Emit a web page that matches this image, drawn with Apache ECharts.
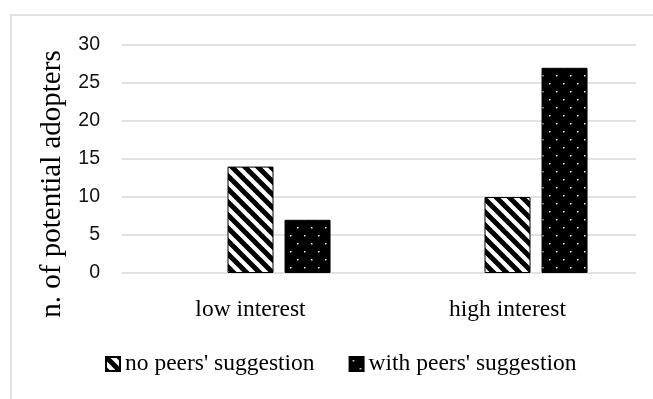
<!DOCTYPE html>
<html>
<head>
<meta charset="utf-8">
<style>
  html, body { margin: 0; padding: 0; background: #ffffff; }
  #chart { width: 653px; height: 399px; }
</style>
<script src="https://cdn.jsdelivr.net/npm/echarts@6/dist/echarts.min.js"></script>
</head>
<body>
<div id="chart"></div>
<script>
// Categories and series values
var categories = ['low interest', 'high interest'];
var noPeers = [14, 10];
var withPeers = [7, 27];
var yTicks = { min: 0, max: 30, step: 5 };
var seriesNames = ["no peers' suggestion", "with peers' suggestion"];
var axisTitle = 'n. of potential adopters';

// Diagonal black/white stripes ("\" direction)
function hatchPattern() {
  var s = 13;
  var c = document.createElement('canvas');
  c.width = s; c.height = s;
  var g = c.getContext('2d');
  g.fillStyle = '#ffffff';
  g.fillRect(0, 0, s, s);
  g.strokeStyle = '#000000';
  g.lineWidth = 5;
  for (var k = -2; k <= 2; k++) {
    g.beginPath();
    g.moveTo(-s, -s - k * s);
    g.lineTo(2 * s, 2 * s - k * s);
    g.stroke();
  }
  return { image: c, repeat: 'repeat' };
}

// Black fill with a staggered grid of small light dots
function dotPattern() {
  var w = 14, h = 16;
  var c = document.createElement('canvas');
  c.width = w; c.height = h;
  var g = c.getContext('2d');
  g.fillStyle = '#000000';
  g.fillRect(0, 0, w, h);
  g.fillStyle = '#eeeeee';
  g.fillRect(3, 3, 1.5, 1.5);
  g.fillRect(10, 11, 1.5, 1.5);
  return { image: c, repeat: 'repeat' };
}

var serif = '"Liberation Serif", "Times New Roman", serif';
var chart = echarts.init(document.getElementById('chart'), null, { renderer: 'canvas' });

chart.setOption({
  animation: false,
  backgroundColor: '#ffffff',
  grid: { left: 122, right: 17, top: 45, bottom: 126 },
  legend: {
    data: seriesNames,
    left: 100,
    top: 347,
    itemWidth: 14,
    itemHeight: 14,
    itemGap: 34,
    icon: 'rect',
    textStyle: { fontFamily: serif, fontSize: 23.5, color: '#000000' }
  },
  xAxis: {
    type: 'category',
    data: categories,
    axisLine: { show: false },
    axisTick: { show: false },
    axisLabel: { fontFamily: serif, fontSize: 23.5, color: '#000000', margin: 25 }
  },
  yAxis: {
    type: 'value',
    min: yTicks.min,
    max: yTicks.max,
    interval: yTicks.step,
    axisLine: { show: false },
    axisTick: { show: false },
    axisLabel: { fontFamily: '"Liberation Sans", Arial, sans-serif', fontSize: 19.5, color: '#111111', margin: 22 },
    splitLine: { lineStyle: { color: '#d9d9d9', width: 1.5 } }
  },
  graphic: [
    {
      type: 'rect',
      shape: { x: 11, y: 15, width: 800, height: 600 },
      style: { fill: null, stroke: '#d9d9d9', lineWidth: 1.5 },
      silent: true
    },
    {
      type: 'text',
      x: 52,
      y: 184,
      rotation: Math.PI / 2,
      style: {
        text: axisTitle,
        fontFamily: serif,
        fontSize: 29,
        fill: '#000000',
        textAlign: 'center',
        textVerticalAlign: 'middle'
      }
    }
  ],
  series: [
    {
      // empty leading slot in each cluster
      name: '',
      type: 'bar',
      data: [null, null],
      barWidth: 46,
      barGap: '24%'
    },
    {
      name: seriesNames[0],
      type: 'bar',
      data: noPeers,
      barWidth: 46,
      barGap: '24%',
      itemStyle: { color: hatchPattern(), borderColor: '#000000', borderWidth: 1 }
    },
    {
      name: seriesNames[1],
      type: 'bar',
      data: withPeers,
      barWidth: 46,
      barGap: '24%',
      itemStyle: { color: dotPattern(), borderColor: '#000000', borderWidth: 1 }
    }
  ]
});
</script>
</body>
</html>
